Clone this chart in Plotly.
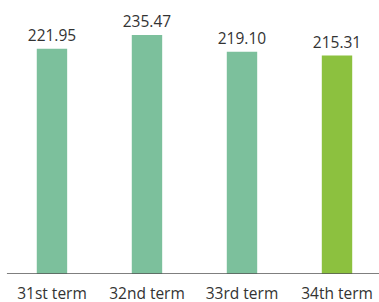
import plotly.graph_objects as go

categories = ["31st term", "32nd term", "33rd term", "34th term"]
values = [221.95, 235.47, 219.10, 215.31]
labels = ["221.95", "235.47", "219.10", "215.31"]
colors = ["#7cc09c", "#7cc09c", "#7cc09c", "#8cc13f"]

fig = go.Figure(go.Bar(
    x=categories, y=values, text=labels, textposition="outside",
    constraintext="none",
    marker=dict(color=colors, line=dict(width=0)), width=0.32,
    textfont=dict(family="Open Sans", size=15.5, color="#333333"),
    cliponaxis=False,
))

fig.update_layout(
    width=379, height=302,
    margin=dict(l=0, r=0, t=0, b=28, autoexpand=False),
    plot_bgcolor="white", paper_bgcolor="white",
    showlegend=False,
    font=dict(family="Open Sans", size=15.5, color="#333333"),
    xaxis=dict(range=[-0.547, 3.442], showgrid=False, showline=False, ticks="",
               automargin=False, ticklabelstandoff=8,
               tickfont=dict(family="Open Sans", size=15.5, color="#333333")),
    yaxis=dict(range=[0, 270], visible=False, automargin=False),
    shapes=[dict(type="line", xref="x", yref="y", x0=-0.474, x1=3.442, y0=0, y1=0,
                 line=dict(color="#555555", width=1.5))],
)

fig.write_html("out.html", config={"displayModeBar": False},
               post_script="document.body.style.margin='0';")
